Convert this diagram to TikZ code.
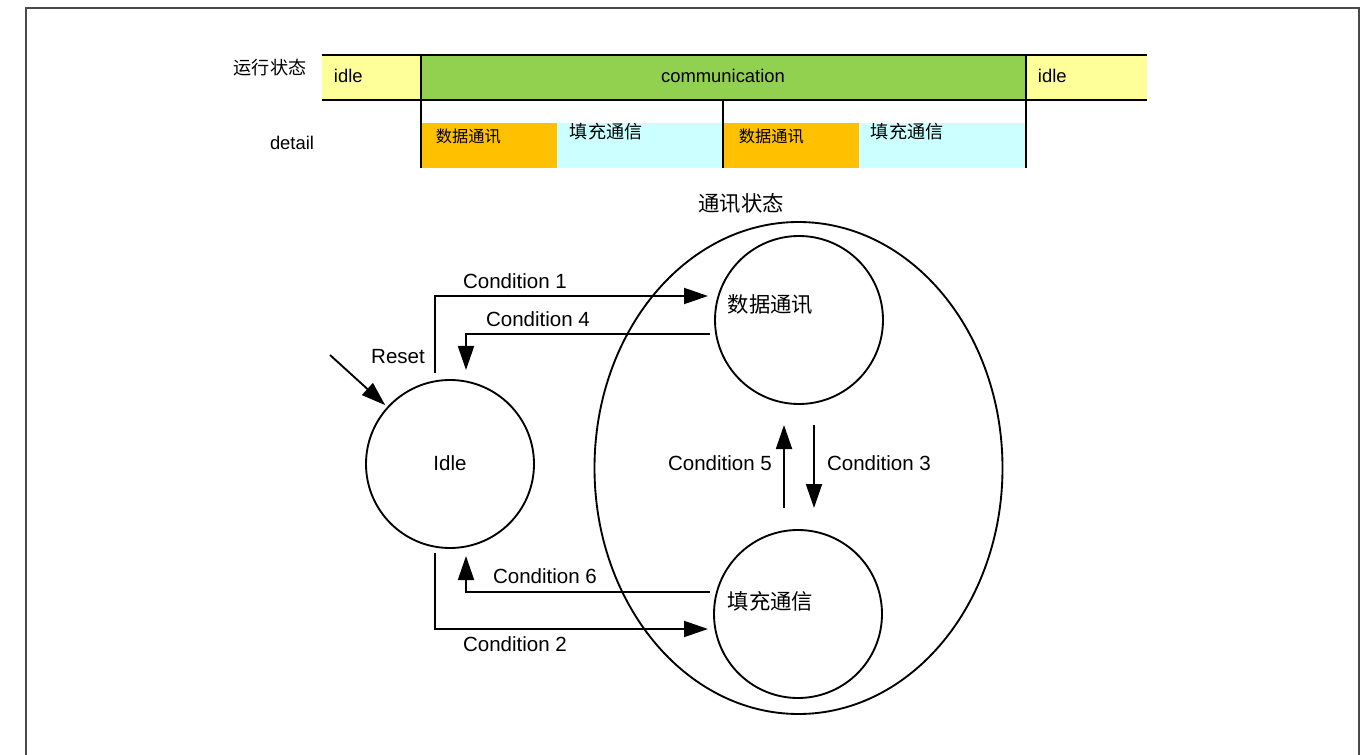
\documentclass[tikz,border=0pt]{standalone}
\usepackage{fontspec}
\setmainfont{Liberation Sans}
\newfontfamily\cjk{Noto Sans CJK SC}
\usetikzlibrary{arrows.meta,shapes.geometric}
\definecolor{yel}{HTML}{FFFF99}
\definecolor{grn}{HTML}{92D050}
\definecolor{org}{HTML}{FFC000}
\definecolor{cyn}{HTML}{CCFFFF}
\definecolor{framegray}{HTML}{4A4A4A}
\begin{document}
\begin{tikzpicture}[x=0.75pt,y=-0.75pt,line width=1.4pt,
  tip/.style={-{Triangle[length=18pt,width=12pt]}},
  state/.style={draw,circle,minimum size=126pt,inner sep=0pt},
  cond/.style={font=\fontsize{15.4}{18}\selectfont,inner sep=0pt},
  toptxt/.style={font=\fontsize{13.8}{16}\selectfont,inner sep=0pt},
  smallcjk/.style={font=\fontsize{12.2}{14}\selectfont\cjk,inner sep=0pt},
  midcjk/.style={font=\fontsize{13.6}{16}\selectfont\cjk,inner sep=0pt},
  bigcjk/.style={font=\fontsize{16}{19}\selectfont\cjk,inner sep=0pt}]
\useasboundingbox (0,0) rectangle (1370,755);
% frame
\draw[framegray,line width=1.5pt] (26,756) -- (26,8) -- (1359,8) -- (1359,756);

% timeline fills
\fill[yel] (322,55) rectangle (421,100);
\fill[grn] (421,55) rectangle (1026,100);
\fill[yel] (1026,55) rectangle (1147,100);
\fill[org] (421,123) rectangle (557,168);
\fill[cyn] (557,123) rectangle (723,168);
\fill[org] (723,123) rectangle (859,168);
\fill[cyn] (859,123) rectangle (1026,168);
% timeline lines
\draw (322,55) -- (1147,55);
\draw (322,100) -- (1147,100);
\draw (421,55) -- (421,168);
\draw (1026,55) -- (1026,168);
\draw (723,100) -- (723,168);

% timeline texts
\node[midcjk] (runlbl) at (270,68) {运行状态};
\node[toptxt] (detlbl) at (292,143) {detail};
\node[toptxt,anchor=west] (idle1) at (333,76) {idle};
\node[toptxt] (comm) at (723,76) {communication};
\node[toptxt,anchor=west] (idle2) at (1037,76) {idle};
\node[smallcjk,anchor=west] (d1) at (435,136) {数据通讯};
\node[midcjk,anchor=west] (f1) at (569,132) {填充通信};
\node[smallcjk,anchor=west] (d2) at (738,136) {数据通讯};
\node[midcjk,anchor=west] (f2) at (870,132) {填充通信};

% state diagram
\node[draw,ellipse,minimum width=306pt,minimum height=369pt,inner sep=0pt] (comst) at (798.5,468) {};
\node[bigcjk] (comlbl) at (741,204) {通讯状态};
\node[state] (data) at (799,320) {};
\node[state] (fill) at (798,614) {};
\node[state] (idle) at (450,464) {};
\node[cond] (idletxt) at (450,463) {Idle};
\node[bigcjk,anchor=west] (datatxt) at (727,305) {数据通讯};
\node[bigcjk,anchor=west] (filltxt) at (727,601) {填充通信};

% connectors
\coordinate (c1s) at (435,373); \coordinate (c1e) at (708,296);
\draw[tip] (c1s) |- (c1e);
\coordinate (c4s) at (710,334); \coordinate (c4e) at (466,370);
\draw[tip] (c4s) -| (c4e);
\coordinate (rs) at (330,355);
\draw[tip,shorten >=2pt] (rs) -- (idle);
\coordinate (c5s) at (784,508); \coordinate (c5e) at (784,425);
\draw[tip] (c5s) -- (c5e);
\coordinate (c3s) at (814,425); \coordinate (c3e) at (814,508);
\draw[tip] (c3s) -- (c3e);
\coordinate (c6s) at (710,592); \coordinate (c6e) at (466,556);
\draw[tip] (c6s) -| (c6e);
\coordinate (c2s) at (435,553); \coordinate (c2e) at (708,629);
\draw[tip] (c2s) |- (c2e);

% labels
\node[cond] (l1) at (515,281) {Condition 1};
\node[cond] (l4) at (538,319) {Condition 4};
\node[cond] (lr) at (398,357) {Reset};
\node[cond] (l5) at (720,463) {Condition 5};
\node[cond] (l3) at (879,463) {Condition 3};
\node[cond] (l6) at (545,576) {Condition 6};
\node[cond] (l2) at (515,644) {Condition 2};
\end{tikzpicture}
\end{document}
